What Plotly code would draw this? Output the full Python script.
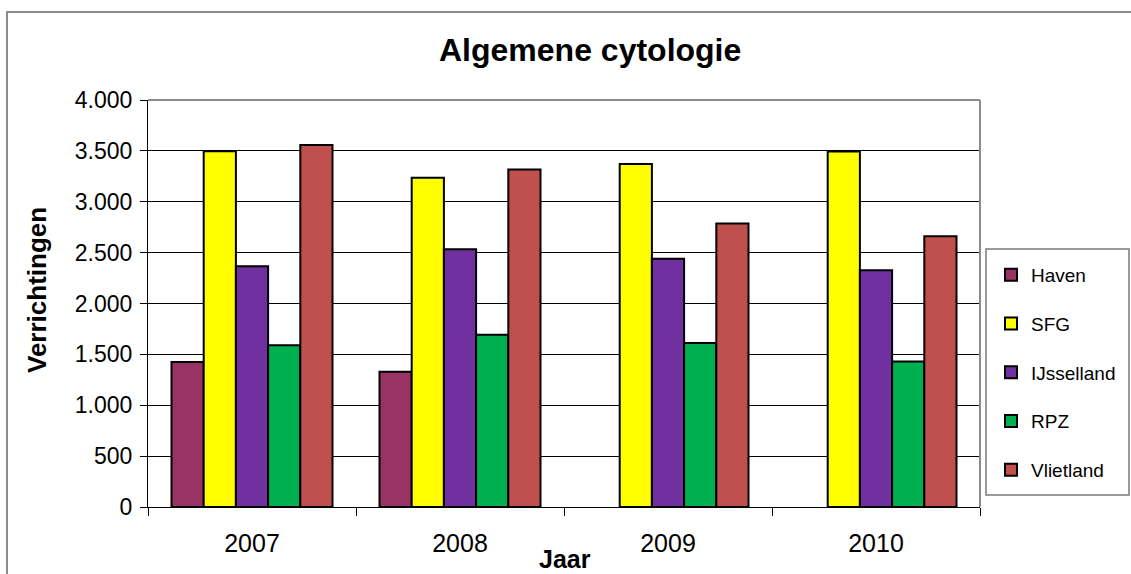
import plotly.graph_objects as go

years = ["2007", "2008", "2009", "2010"]
series_names = ["Haven", "SFG", "IJsselland", "RPZ", "Vlietland"]
haven = [1425, 1330, None, None]
sfg = [3497, 3235, 3370, 3495]
ijsselland = [2365, 2532, 2440, 2327]
rpz = [1590, 1692, 1612, 1430]
vlietland = [3558, 3316, 2787, 2662]
colors = ["#993366", "#FFFF00", "#7030A0", "#00B050", "#C0504D"]
y_ticks = [0, 500, 1000, 1500, 2000, 2500, 3000, 3500, 4000]

FONT = "Liberation Sans, Arial, sans-serif"

fig = go.Figure()
for name, vals, col in zip(series_names, [haven, sfg, ijsselland, rpz, vlietland], colors):
    fig.add_trace(go.Bar(
        x=years, y=vals, name=name, legendgroup=name,
        marker=dict(color=col, line=dict(color="black", width=2)),
    ))

L, R, T, B = 148, 151, 100, 67
W, H = 1131, 574
pw, ph = W - L - R, H - T - B

def px(x):
    return (x - L) / pw

def py(y):
    return (H - B - y) / ph

fig.update_layout(
    width=W, height=H,
    margin=dict(l=L, r=R, t=T, b=B, pad=0, autoexpand=False),
    paper_bgcolor="white", plot_bgcolor="white",
    font=dict(family=FONT, color="black", size=24),
    separators=",.",
    barmode="group", bargap=0.226, bargroupgap=0,
    showlegend=True,
    legend=dict(
        x=px(991), y=py(256), xanchor="left", yanchor="top",
        bgcolor="rgba(0,0,0,0)", borderwidth=0,
        font=dict(family=FONT, size=19),
        traceorder="grouped", tracegroupgap=21,
    ),
    xaxis=dict(
        type="category", showline=True, linecolor="black", linewidth=1,
        ticks="outside", ticklen=8, tickcolor="black", tickson="boundaries",
        tickfont=dict(size=25), ticklabelstandoff=14, showgrid=False,
        automargin=False,
    ),
    yaxis=dict(
        range=[0, 4000], tickvals=y_ticks, tickformat=",d",
        showline=True, linecolor="black", linewidth=1,
        ticks="outside", ticklen=7, tickcolor="black",
        showgrid=True, gridcolor="black", gridwidth=1,
        tickfont=dict(size=23), zeroline=False, automargin=False,
        ticklabelstandoff=3,
    ),
    annotations=[
        dict(text="<b>Algemene cytologie</b>", x=px(590), y=py(50), xref="paper", yref="paper",
             showarrow=False, font=dict(size=32, family=FONT), xanchor="center", yanchor="middle"),
        dict(text="<b>Verrichtingen</b>", x=px(37), y=py(290), xref="paper", yref="paper",
             showarrow=False, textangle=-90, font=dict(size=26, family=FONT), xanchor="center", yanchor="middle"),
        dict(text="<b>Jaar</b>", x=px(565), y=py(559), xref="paper", yref="paper",
             showarrow=False, font=dict(size=25, family=FONT), xanchor="center", yanchor="middle"),
    ],
    shapes=[
        dict(type="rect", xref="paper", yref="paper", x0=px(7), x1=px(1160), y0=py(600), y1=py(12),
             line=dict(color="#8c8c8c", width=2), layer="below"),
        dict(type="line", xref="paper", yref="paper", x0=0, x1=1, y0=1, y1=1,
             line=dict(color="#8c8c8c", width=2)),
        dict(type="line", xref="paper", yref="paper", x0=1, x1=1, y0=0, y1=1,
             line=dict(color="#8c8c8c", width=2)),
        dict(type="rect", xref="paper", yref="paper", x0=px(986), x1=px(1129), y0=py(495), y1=py(249),
             line=dict(color="#7a7a7a", width=1.5)),
    ],
)

fig.write_html("out.html", config={"displayModeBar": False},
               post_script="document.body.style.margin='0';document.body.style.padding='0';")
